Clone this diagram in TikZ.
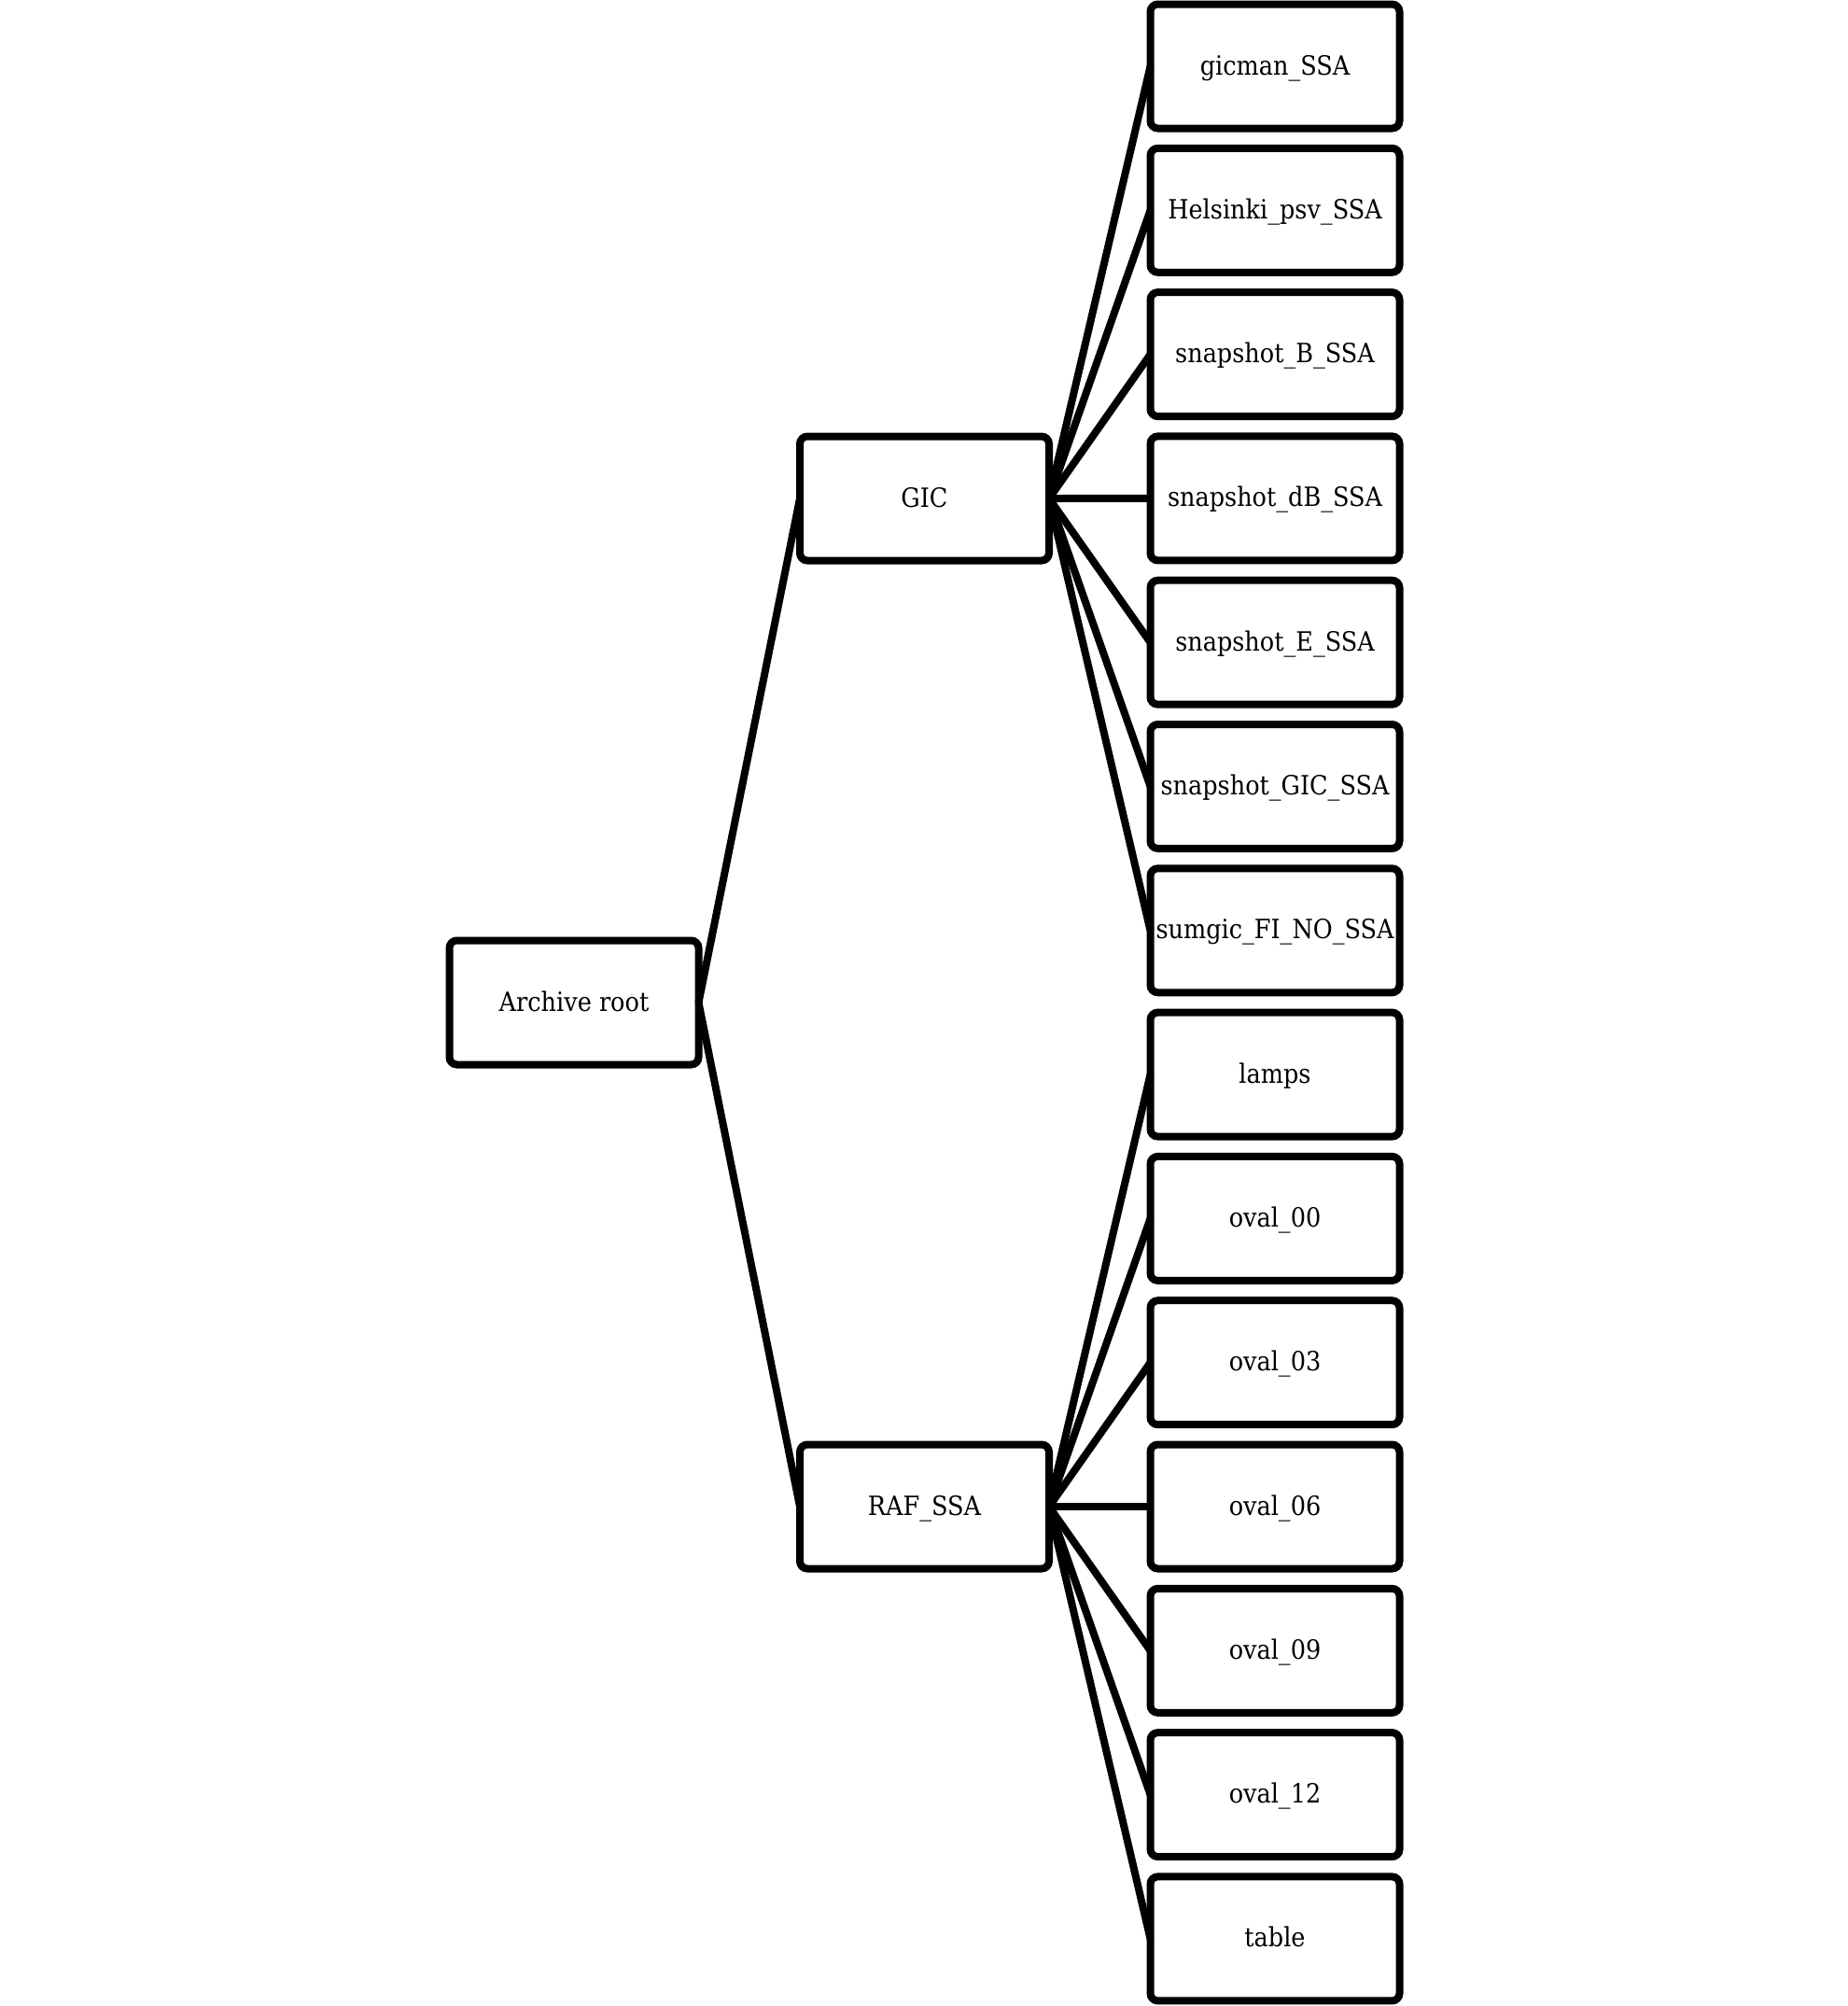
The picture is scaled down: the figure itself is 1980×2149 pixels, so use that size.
\documentclass[tikz,border=0pt]{standalone}
\usepackage{fontspec}
\setmainfont{DejaVu Serif Condensed}
\begin{document}
\begin{tikzpicture}[x=0.5pt,y=-0.5pt,
  box/.style={draw=black, fill=white, line width=4pt, rounded corners=4pt,
    minimum width=133.5pt, minimum height=66.5pt, inner sep=0pt, outer sep=0pt,
    text height=0.9em, text depth=0pt,
    font=\fontsize{14.2pt}{17pt}\selectfont},
  link/.style={line width=4pt}]
\useasboundingbox (0,0) rectangle (1980,2149);
\node[box] (root) at (615,1074) {Archive root};
\node[box] (gic) at (990.5,534) {GIC};
\node[box] (raf) at (990.5,1614) {RAF\_SSA};
\foreach \n/\t [count=\i from 0] in {l1/gicman\_SSA, l2/Helsinki\_psv\_SSA, l3/snapshot\_B\_SSA, l4/snapshot\_dB\_SSA, l5/snapshot\_E\_SSA, l6/snapshot\_GIC\_SSA, l7/sumgic\_FI\_NO\_SSA, l8/lamps, l9/oval\_00, l10/oval\_03, l11/oval\_06, l12/oval\_09, l13/oval\_12, l14/table}
  \node[box] (\n) at (1366,{71+154.3*\i}) {\t};
\draw[link] (root.east) -- (gic.west);
\draw[link] (root.east) -- (raf.west);
\foreach \n in {l1,l2,l3,l4,l5,l6,l7}
  \draw[link] (gic.east) -- (\n.west);
\foreach \n in {l8,l9,l10,l11,l12,l13,l14}
  \draw[link] (raf.east) -- (\n.west);
\end{tikzpicture}
\end{document}
